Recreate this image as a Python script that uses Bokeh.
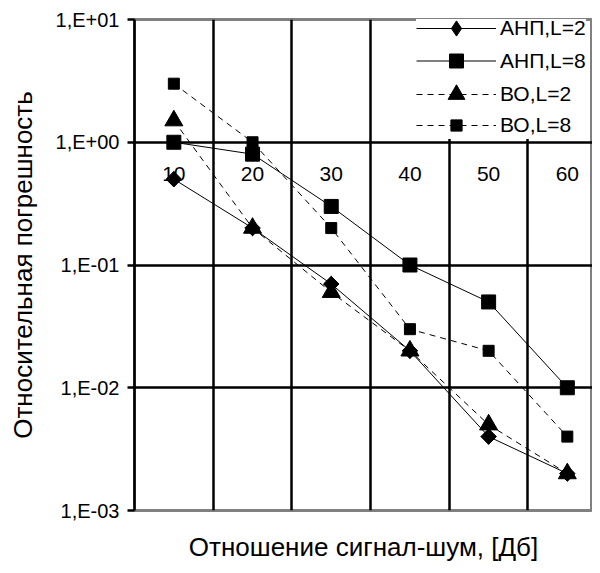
import math
from bokeh.plotting import figure
from bokeh.models import FixedTicker, Legend, LegendItem
from bokeh.core.properties import value
from bokeh.embed import file_html
from bokeh.resources import INLINE

snr = [10, 20, 30, 40, 50, 60]
snr_labels = ["10", "20", "30", "40", "50", "60"]
anp_l2 = [0.5, 0.2, 0.07, 0.02, 0.004, 0.002]
anp_l8 = [1.0, 0.8, 0.3, 0.1, 0.05, 0.01]
bo_l2 = [1.5, 0.2, 0.06, 0.02, 0.005, 0.002]
bo_l8 = [3.0, 1.0, 0.2, 0.03, 0.02, 0.004]
y_ticks = [1e-3, 1e-2, 1e-1, 1e0, 1e1]
y_tick_labels = ["1,E-03", "1,E-02", "1,E-01", "1,E+00", "1,E+01"]
cat_bounds = [15, 25, 35, 45, 55, 65]

FONT = "Liberation Sans"

p = figure(width=592, height=565, y_axis_type="log",
           x_range=(5, 63.2), y_range=(1e-3, 1e1),
           output_backend="svg", toolbar_location=None,
           min_border_left=134, min_border_right=0, min_border_top=19,
           min_border_bottom=55)

p.background_fill_color = "white"
p.border_fill_color = "white"
p.outline_line_color = "#808080"
p.outline_line_width = 3

# grids
p.xgrid.ticker = FixedTicker(ticks=cat_bounds)
p.xgrid.grid_line_color = "black"
p.xgrid.grid_line_width = 2.5
p.ygrid.ticker = FixedTicker(ticks=y_ticks[1:-1])
p.ygrid.grid_line_color = "black"
p.ygrid.grid_line_width = 2.5

# y axis
ya = p.yaxis[0]
ya.ticker = FixedTicker(ticks=y_ticks)
ya.major_label_overrides = {t: l for t, l in zip(y_ticks, y_tick_labels)}
ya.minor_tick_line_color = None
ya.major_tick_in = 0
ya.major_tick_out = 7
ya.major_tick_line_width = 2.5
ya.major_tick_line_color = "black"
ya.axis_line_color = "black"
ya.axis_line_width = 2.5
ya.major_label_text_font = FONT
ya.major_label_text_font_size = "20px"
ya.major_label_text_color = "black"
ya.major_label_standoff = 8
ya.axis_label = "Относительная погрешность"
ya.axis_label_text_font = FONT
ya.axis_label_text_font_size = "26px"
ya.axis_label_text_font_style = "normal"
ya.axis_label_text_color = "black"
ya.axis_label_standoff = 15

# x axis: only the title
xa = p.xaxis[0]
xa.ticker = FixedTicker(ticks=[])
xa.axis_line_color = None
xa.major_tick_line_color = None
xa.minor_tick_line_color = None
xa.major_label_text_font_size = "0px"
xa.axis_label = "Отношение сигнал-шум, [Дб]"
xa.axis_label_text_font = FONT
xa.axis_label_text_font_size = "26px"
xa.axis_label_text_font_style = "normal"
xa.axis_label_text_color = "black"
xa.axis_label_standoff = 21

# category labels sitting under the 1,E+00 line
p.text(x=snr, y=[1.0] * len(snr), text=snr_labels,
       text_font=value(FONT), text_font_size="21px", text_color="black",
       text_align="center", text_baseline="top", y_offset=25)

r1l = p.line(snr, anp_l2, line_color="black", line_width=1)
r1d = p.scatter(snr, anp_l2, marker="diamond", size=15, color="black")
r1m = p.scatter(snr, anp_l2, marker="square", angle=math.pi / 4, size=11, color="black")
r2l = p.line(snr, anp_l8, line_color="black", line_width=1)
r2m = p.scatter(snr, anp_l8, marker="square", size=14, color="black")
r3l = p.line(snr, bo_l2, line_color="black", line_width=1, line_dash="6 5")
r3m = p.scatter(snr, bo_l2, marker="triangle", size=18, color="black")
r4l = p.line(snr, bo_l8, line_color="black", line_width=1, line_dash="6 5")
r4m = p.scatter(snr, bo_l8, marker="square", size=11, color="black")

# one legend per row so that each legend symbol can have its own size
# (added bottom row first, so upper rows are drawn on top)
legend_rows = [
    ("ВО,L=8", [r4l, r4m], 28, 28, 371),
    ("ВО,L=2", [r3l, r3m], 42, 42, 395),
    ("АНП,L=8", [r2l, r2m], 35, 35, 432),
    ("АНП,L=2", [r1l, r1d], 38, 38, 463),
]
for label, rends, gh, lh, ly in legend_rows:
    lg = Legend(items=[LegendItem(label=label, renderers=rends)],
                location=(282, ly), orientation="vertical")
    lg.glyph_width = 80
    lg.glyph_height = gh
    lg.label_height = lh
    lg.spacing = 0
    lg.padding = 0
    lg.margin = 0
    lg.label_standoff = 4
    lg.border_line_color = None
    lg.background_fill_color = "white"
    lg.background_fill_alpha = 1.0
    lg.label_text_font = FONT
    lg.label_text_font_size = "21px"
    lg.label_text_color = "black"
    p.add_layout(lg, "center")

open("out.html", "w").write(file_html(p, INLINE))
